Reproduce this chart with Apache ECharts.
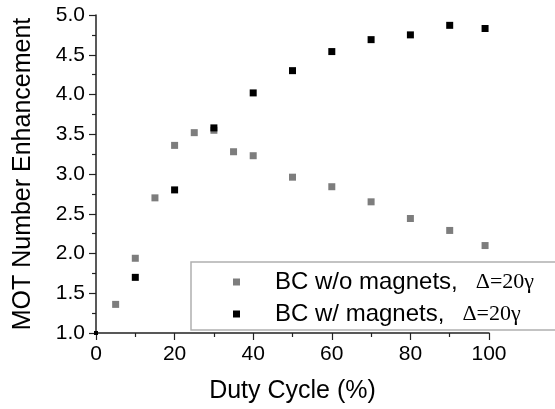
<!DOCTYPE html>
<html>
<head>
<meta charset="utf-8">
<script src="https://cdn.jsdelivr.net/npm/echarts@6/dist/echarts.min.js"></script>
<style>
    html, body { margin: 0; padding: 0; background: #fff; }
    #chart { width: 555px; height: 409px; }
</style>
</head>
<body>
<div id="chart"></div>
<script>
// Duty cycle (%) and MOT number enhancement
const dutyNoMagnets = [5, 10, 15, 20, 25, 30, 35, 40, 50, 60, 70, 80, 90, 99]
const enhNoMagnets = [1.36, 1.94, 2.70, 3.36, 3.52, 3.55, 3.28, 3.23, 2.96, 2.84, 2.65, 2.44, 2.29, 2.10]

const dutyMagnets = [0, 10, 20, 30, 40, 50, 60, 70, 80, 90, 99]
const enhMagnets = [1.0, 1.70, 2.80, 3.58, 4.02, 4.30, 4.54, 4.69, 4.75, 4.87, 4.83]

const seriesNames = ['BC w/o magnets,', 'BC w/ magnets,']
const legendSuffix = 'Δ=20γ'

const FONT = '"Liberation Sans", Arial, sans-serif'

const chart = echarts.init(document.getElementById('chart'))

// the point sitting on the axis corner is mostly hidden in the original, draw it small
const toPairs = (xs, ys) => xs.map((x, i) =>
    x === 0 ? { value: [x, ys[i]], symbolSize: 4 } : [x, ys[i]])

chart.setOption({
    animation: false,
    grid: { left: 96, top: 15, width: 393, height: 318 },
    legend: {
        data: seriesNames,
        orient: 'vertical',
        left: 191,
        top: 262,
        padding: [8, 60, 4, 42],
        itemGap: 8,
        itemWidth: 7,
        itemHeight: 7,
        backgroundColor: '#fff',
        borderColor: '#b0b0b0',
        borderWidth: 1.5,
        borderRadius: 0,
        formatter: name => `{a|${name}}{b|${legendSuffix}}`,
        textStyle: {
            rich: {
                a: { fontFamily: FONT, fontSize: 24, color: '#000', lineHeight: 28, padding: [0, 0, 0, 30] },
                b: { fontFamily: '"Liberation Serif", "Times New Roman", serif', fontSize: 22, color: '#000', lineHeight: 28, padding: [0, 0, 0, 18] }
            }
        }
    },
    xAxis: {
        type: 'value',
        min: 0,
        max: 100,
        interval: 20,
        name: 'Duty Cycle (%)',
        nameLocation: 'middle',
        nameGap: 46,
        nameMoveOverlap: false,
        nameTextStyle: { fontFamily: FONT, fontSize: 25, color: '#000' },
        axisLine: { onZero: false, lineStyle: { color: '#222', width: 1.5 } },
        axisTick: { inside: false, length: 7, lineStyle: { color: '#222', width: 1.2 } },
        minorTick: { show: true, splitNumber: 2, length: 4, lineStyle: { color: '#222', width: 1.2 } },
        axisLabel: { fontFamily: FONT, fontSize: 21, color: '#000', margin: 11 },
        splitLine: { show: false }
    },
    yAxis: {
        type: 'value',
        min: 1,
        max: 5,
        interval: 0.5,
        name: 'MOT Number Enhancement',
        nameLocation: 'middle',
        nameGap: 60,
        nameMoveOverlap: false,
        nameTextStyle: { fontFamily: FONT, fontSize: 25, color: '#000' },
        axisLine: { show: true, onZero: false, lineStyle: { color: '#222', width: 1.5 } },
        axisTick: { show: true, inside: false, length: 7, lineStyle: { color: '#222', width: 1.2 } },
        minorTick: { show: true, splitNumber: 2, length: 4, lineStyle: { color: '#222', width: 1.2 } },
        axisLabel: { fontFamily: FONT, fontSize: 21, color: '#000', margin: 11, formatter: v => v.toFixed(1) },
        splitLine: { show: false }
    },
    series: [
        {
            name: seriesNames[0],
            type: 'scatter',
            symbol: 'rect',
            symbolSize: 7,
            itemStyle: { color: '#7d7d7d', opacity: 1 },
            data: toPairs(dutyNoMagnets, enhNoMagnets)
        },
        {
            name: seriesNames[1],
            type: 'scatter',
            symbol: 'rect',
            symbolSize: 7,
            itemStyle: { color: '#000', opacity: 1 },
            data: toPairs(dutyMagnets, enhMagnets)
        }
    ]
})
</script>
</body>
</html>
